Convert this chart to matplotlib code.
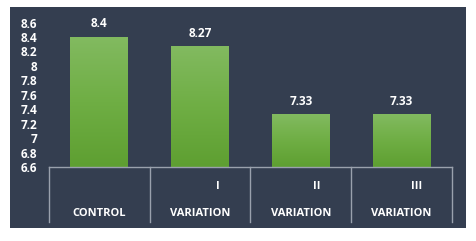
import numpy as np
import matplotlib.pyplot as plt
from matplotlib.patches import Rectangle
from matplotlib.colors import LinearSegmentedColormap

groups = ['CONTROL', 'VARIATION', 'VARIATION', 'VARIATION']
numerals = ['', 'I', 'II', 'III']
scores = [8.4, 8.27, 7.33, 7.33]
score_labels = ['8.4', '8.27', '7.33', '7.33']
yticks = [6.6, 6.8, 7.0, 7.2, 7.4, 7.6, 7.8, 8.0, 8.2, 8.4, 8.6]

bg = '#343e50'
line_col = '#9aa1ad'
base = 6.6
plt.rcParams['font.family'] = ['Open Sans', 'DejaVu Sans']

fig = plt.figure(figsize=(4.76, 2.41), dpi=100, facecolor='white')
fig.patches.append(Rectangle((10 / 476, 1 - 228 / 241), 456 / 476, 221 / 241,
                             transform=fig.transFigure, facecolor=bg,
                             edgecolor='none', zorder=-5))
ax = fig.add_axes([48.7 / 476, 74 / 241, 403.3 / 476, 144.4 / 241])
ax.set_facecolor('none')

x = np.arange(len(groups))
bars = ax.bar(x, np.array(scores) - base, width=0.57, bottom=base,
              color='none', zorder=2)
grad = np.linspace(0, 1, 256).reshape(-1, 1)
cmap = LinearSegmentedColormap.from_list('g', ['#5e9f31', '#6fae44', '#82ba60'])
for b in bars:
    x0, w = b.get_x(), b.get_width()
    top = b.get_y() + b.get_height()
    im = ax.imshow(grad, cmap=cmap, origin='lower', aspect='auto',
                   extent=[x0, x0 + w, base, top], zorder=2)
    im.set_clip_path(b)
ax.set_xlim(-0.5, len(groups) - 0.5)
ax.set_ylim(6.6, 8.6)

for i, (v, s) in enumerate(zip(scores, score_labels)):
    ax.annotate(s, (i, v), xytext=(0, 9.5), textcoords='offset points',
                ha='center', va='center', color='white', fontsize=8.5,
                fontweight='bold')

for s in ax.spines.values():
    s.set_visible(False)
ax.set_xticks([])
ax.set_yticks(yticks)
ax.set_yticklabels(['%g' % t for t in yticks], color='white', fontsize=8.5,
                   fontweight='bold')
ax.tick_params(axis='y', length=0, pad=8)

ax.plot([0, 1], [0, 0], transform=ax.transAxes, color=line_col, lw=1,
        clip_on=False, zorder=3)
for b in np.arange(len(groups) + 1) - 0.5:
    ax.plot([b, b], [base, base - 2.0 * 0.381], color=line_col, lw=1,
            clip_on=False, zorder=3)

for i, (g, n) in enumerate(zip(groups, numerals)):
    ax.text(i, base - 2.0 * 0.319, g, ha='center', va='center', color='white',
            fontsize=8, fontweight='bold', clip_on=False)
    if n:
        ax.text(i + 0.2, base - 2.0 * 0.132, n, ha='right', va='center',
                color='white', fontsize=8, fontweight='bold', clip_on=False)

fig.savefig('out.png', dpi=100, facecolor='white')
